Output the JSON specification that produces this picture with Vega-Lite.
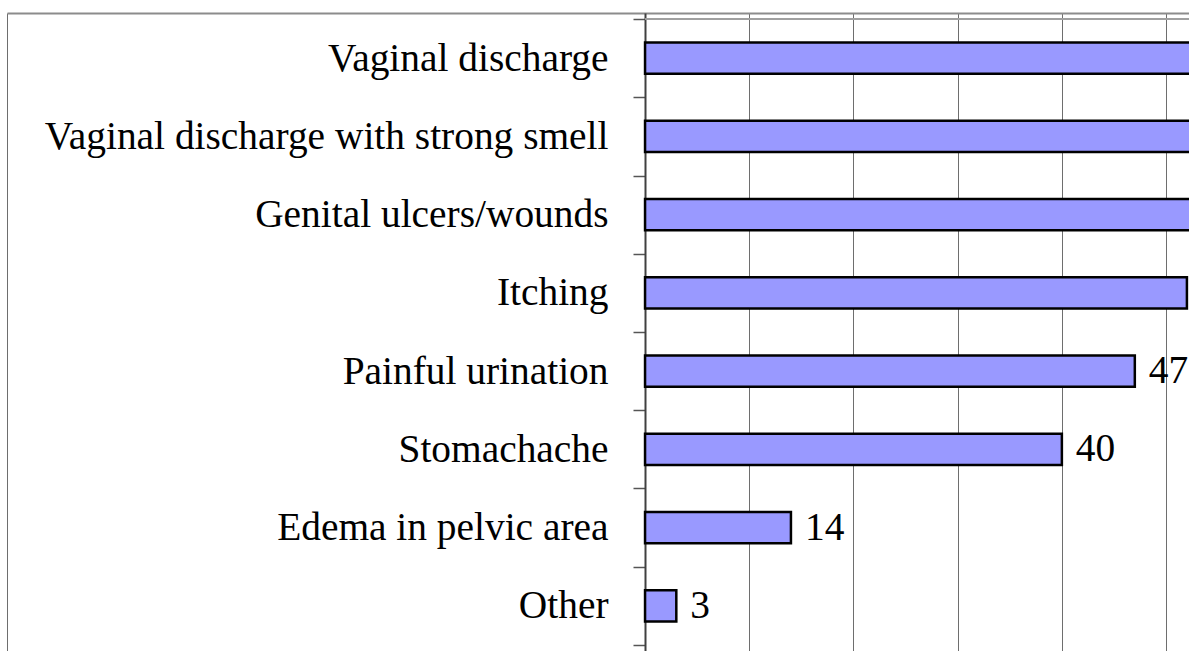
{
  "$schema": "https://vega.github.io/schema/vega-lite/v6.json",
  "width": 1182,
  "height": 638,
  "autosize": {"type": "none"},
  "padding": {"left": 7, "top": 13, "right": 0, "bottom": 0},
  "background": "white",
  "config": {"view": {"stroke": null, "fill": "white"}},
  "datasets": {
    "bars": [
      {"cat": "Vaginal discharge", "value": 70},
      {"cat": "Vaginal discharge with strong smell", "value": 62},
      {"cat": "Genital ulcers/wounds", "value": 56},
      {"cat": "Itching", "value": 52},
      {"cat": "Painful urination", "value": 47},
      {"cat": "Stomachache", "value": 40},
      {"cat": "Edema in pelvic area", "value": 14},
      {"cat": "Other", "value": 3}
    ],
    "top": [{"cat": "Vaginal discharge"}]
  },
  "layer": [
    {
      "data": {"name": "bars"},
      "mark": {"type": "bar", "fill": "#9999ff", "stroke": "black", "strokeWidth": 2.5, "height": {"band": 0.4}, "clip": true},
      "encoding": {
        "y": {
          "field": "cat", "type": "nominal",
          "scale": {"type": "band", "domain": ["Vaginal discharge", "Vaginal discharge with strong smell", "Genital ulcers/wounds", "Itching", "Painful urination", "Stomachache", "Edema in pelvic area", "Other"], "paddingInner": 0, "paddingOuter": 0.0767},
          "axis": {"title": null, "orient": "left", "offset": -638, "labelFont": "Liberation Serif", "labelFontSize": 39.4, "labelColor": "black", "labelPadding": 25, "labelLimit": 800, "tickSize": 12, "tickColor": "#555555", "tickWidth": 1.5, "tickBand": "extent", "domainColor": "#404040", "domainWidth": 2, "grid": false}
        },
        "x": {
          "field": "value", "type": "quantitative",
          "scale": {"domain": [-61.23, 52.2], "nice": false, "zero": false},
          "axis": {"title": null, "orient": "top", "values": [-61.2, 10, 20, 30, 40, 50], "labels": false, "ticks": false, "domain": true, "domainColor": "#8c8c8c", "domainWidth": 2, "grid": true, "gridColor": "#6e6e6e", "gridWidth": 1}
        }
      }
    },
    {
      "data": {"name": "top"},
      "mark": {"type": "rule", "color": "#a0a0a0", "strokeWidth": 2, "clip": true},
      "encoding": {
        "x": {"datum": 0, "type": "quantitative"},
        "x2": {"datum": 60},
        "y": {"field": "cat", "type": "nominal", "bandPosition": 0}
      }
    },
    {
      "data": {"name": "bars"},
      "mark": {"type": "text", "align": "left", "baseline": "middle", "dx": 14, "font": "Liberation Serif", "fontSize": 39.4, "color": "black", "clip": true},
      "encoding": {
        "y": {"field": "cat", "type": "nominal"},
        "x": {"field": "value", "type": "quantitative"},
        "text": {"field": "value", "type": "quantitative"}
      }
    }
  ]
}
